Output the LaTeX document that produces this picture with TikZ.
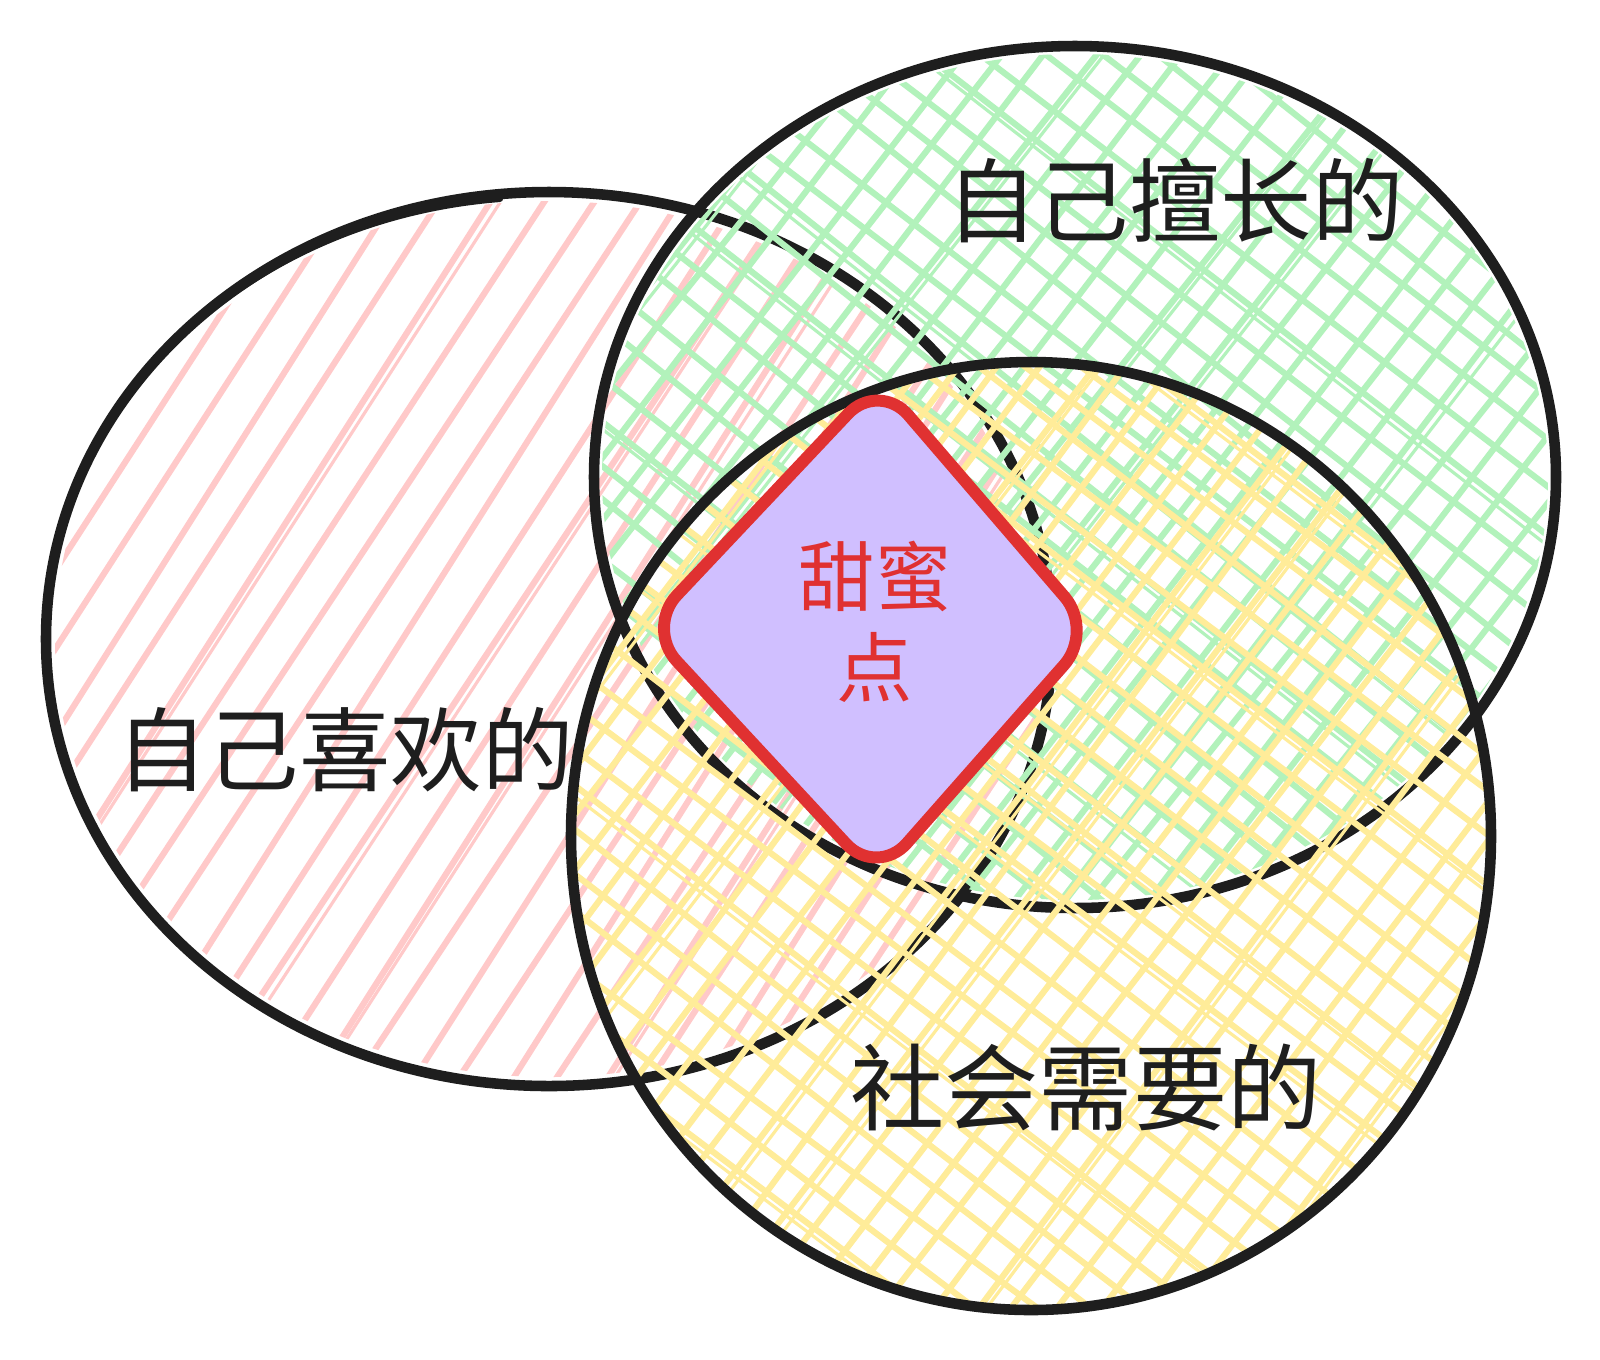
\documentclass[tikz,border=0pt]{standalone}
\usepackage{fontspec}
\usetikzlibrary{calc}
\newfontfamily\cjk{Noto Sans CJK SC}
\definecolor{ink}{HTML}{1E1E1E}
\definecolor{pinkh}{HTML}{FFC9C9}
\definecolor{greenh}{HTML}{B2F2BB}
\definecolor{yellowh}{HTML}{FFEC99}
\definecolor{redst}{HTML}{E03131}
\definecolor{purplef}{HTML}{D0BFFF}
\newcommand{\hatchset}[4]{% #1 colour, #2 spacing, #3 count, #4 angle
  \begin{scope}[rotate=#4]
    \foreach \k in {-#3,...,#3} {
      \pgfmathsetmacro\da{rand*0.8}
      \pgfmathsetmacro\dy{rand*3}
      \draw[hatch, #1, rotate=\da] (-900,\k*#2+\dy) -- (900,\k*#2+\dy);
      \pgfmathtruncatemacro\md{mod(abs(\k),6)}
      \ifnum\md=1
        \draw[hatchthin, #1, rotate=\da*0.5] (-900,\k*#2+\dy+7) -- (900,\k*#2+\dy+7);
      \fi
    }
  \end{scope}}
\begin{document}
\begin{tikzpicture}[x=0.01cm,y=-0.01cm,
  outline/.style={draw=ink, line width=3pt, line cap=round},
  outlinethin/.style={draw=ink, line width=1.8pt, line cap=round},
  hatch/.style={line width=1.75pt, line cap=round},
  hatchthin/.style={line width=0.9pt, line cap=round},
  label/.style={text=ink, inner sep=0pt, font=\cjk\fontsize{26pt}{31pt}\selectfont}]
\pgfmathsetseed{12}
\useasboundingbox (0,0) rectangle (1600,1359);
\fill[white] (0,0) rectangle (1600,1359);

% ---------- left ellipse: likes ----------
\coordinate (A) at (549,639);
\begin{scope}
  \clip (A) ellipse [x radius=494, y radius=438];
  \begin{scope}[shift={(549,639)}]
    \hatchset{pinkh}{41}{15}{57}
  \end{scope}
\end{scope}
\draw[outline] (A) ellipse [x radius=503, y radius=447];
\draw[outlinethin] ($(A)+({503*cos(-165)},{447*sin(-165)})$) arc [start angle=-165, end angle=-95, x radius=497, y radius=440];

% ---------- top right ellipse: skills ----------
\coordinate (B) at (1075,477);
\begin{scope}
  \clip (B) ellipse [x radius=473, y radius=423];
  \begin{scope}[shift={(1075,477)}]
    \hatchset{greenh}{35}{17}{52}
    \hatchset{greenh}{35}{17}{-38}
  \end{scope}
\end{scope}
\draw[outline] (B) ellipse [x radius=481, y radius=431];
\draw[outlinethin] ($(B)+({481*cos(-100)},{431*sin(-100)})$) arc [start angle=-100, end angle=-62, x radius=479, y radius=426];

% ---------- bottom ellipse: society ----------
\coordinate (C) at (1031,836);
\begin{scope}
  \clip (C) ellipse [x radius=455, y radius=469];
  \begin{scope}[shift={(1031,836)}]
    \hatchset{yellowh}{34}{17}{53}
    \hatchset{yellowh}{34}{17}{-37}
  \end{scope}
\end{scope}
\draw[outline] (C) ellipse [x radius=460, y radius=474];
\draw[outlinethin] ($(C)+({460*cos(100)},{474*sin(100)})$) arc [start angle=100, end angle=150, x radius=455, y radius=467];

% ---------- sweet spot ----------
\draw[redst, line width=3.4pt, fill=purplef, rounded corners=0.45cm, line join=round]
  (879,381) -- (1094,631) -- (877,877) -- (646,628) -- cycle;
\node[text=redst, align=center, inner sep=0pt, font=\cjk\fontsize{21.7pt}{25.8pt}\selectfont] (sweet) at (875,622) {甜蜜\\点};

% ---------- labels ----------
\node[label] (skill) at (1175,200) {自己擅长的};
\node[label] (like) at (345,750) {自己喜欢的};
\node[label, font=\cjk\fontsize{26.8pt}{31pt}\selectfont] (need) at (1086,1087) {社会需要的};
\end{tikzpicture}
\end{document}
